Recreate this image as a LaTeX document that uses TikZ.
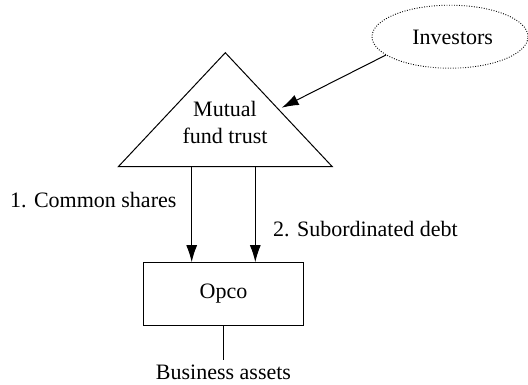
\documentclass[tikz,border=0pt]{standalone}
\usepackage{fontspec}
\setmainfont{Liberation Serif}
\usetikzlibrary{shapes.geometric,arrows.meta}
\begin{document}
\begin{tikzpicture}[x=1pt,y=-1pt,
  lbl/.style={font=\fontsize{22}{27}\selectfont, inner sep=0pt},
  arr/.style={-{Latex[length=17pt,width=11pt]}, line width=1pt},
  ln/.style={line width=1pt},
  dotline/.style={line width=0.9pt, dash pattern=on 0.9pt off 1.6pt}]
\useasboundingbox (0,0) rectangle (528,384);
\clip (0,0) rectangle (528,384);
% triangle
\coordinate (apex) at (225.3,52.7);
\coordinate (bl) at (118.3,166.7);
\coordinate (br) at (332.3,166.7);
\draw[ln] (apex) -- (bl) -- (br) -- cycle;
\node[lbl, align=center] (mft) at (225,122) {Mutual\\fund trust};
% investors
\node[draw, ellipse, dotline, minimum width=156pt, minimum height=63pt, inner sep=0pt] (inv) at (450,36.7) {};
\node[lbl] (invt) at (452.7,37) {Investors};
\coordinate (invs) at (386,55);
\coordinate (mfte) at (281.7,107.7);
\draw[arr] (invs) -- (mfte);
% opco
\node[draw, ln, minimum width=159.6pt, minimum height=63.3pt, inner sep=0pt] (opco) at (223.5,294.3) {};
\node[lbl] (opcot) at (223.5,294) {Opco};
\coordinate (a1s) at (191.7,166.7);
\coordinate (a2s) at (255.3,166.7);
\draw[arr] (a1s) -- (a1s |- opco.north);
\draw[arr] (a2s) -- (a2s |- opco.north);
\node[lbl, anchor=west] (cs) at (10,200) {1. Common shares};
\node[lbl, anchor=west] (sd) at (273,229) {2. Subordinated debt};
\coordinate (ba) at (223.5,360);
\draw[ln] (opco.south) -- (ba);
\node[lbl] (bat) at (223.5,372) {Business assets};
\end{tikzpicture}
\end{document}
